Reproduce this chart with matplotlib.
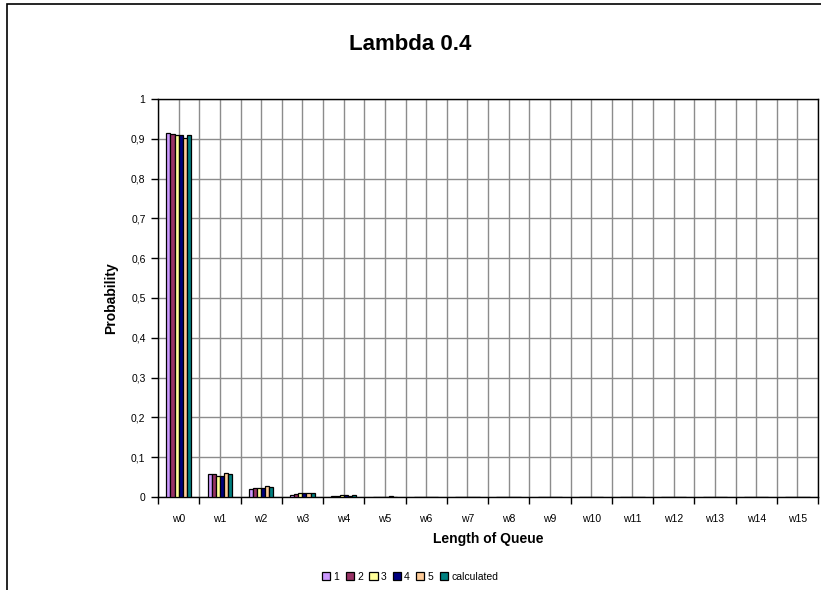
import matplotlib
matplotlib.use("Agg")
import matplotlib.pyplot as plt
from matplotlib.patches import Rectangle
from matplotlib.ticker import FuncFormatter, FixedLocator
import numpy as np

plt.rcParams["font.family"] = ["Liberation Sans", "DejaVu Sans"]

# queue length categories
cats = [f"w{i}" for i in range(16)]
# simulation runs 1..5 and the calculated distribution
run1 = [0.915, 0.057, 0.020, 0.006, 0.003, 0.001, 0.0003, 0.0001, 0, 0, 0, 0, 0, 0, 0, 0]
run2 = [0.912, 0.057, 0.023, 0.007, 0.003, 0.001, 0.0003, 0.0001, 0, 0, 0, 0, 0, 0, 0, 0]
run3 = [0.909, 0.054, 0.023, 0.010, 0.004, 0.001, 0.0003, 0.0001, 0, 0, 0, 0, 0, 0, 0, 0]
run4 = [0.909, 0.054, 0.023, 0.010, 0.004, 0.001, 0.0003, 0.0001, 0, 0, 0, 0, 0, 0, 0, 0]
run5 = [0.903, 0.061, 0.028, 0.010, 0.003, 0.002, 0.0003, 0.0001, 0, 0, 0, 0, 0, 0, 0, 0]
calc = [0.909, 0.057, 0.024, 0.010, 0.004, 0.001, 0.0003, 0.0001, 0, 0, 0, 0, 0, 0, 0, 0]
series = [("1", run1), ("2", run2), ("3", run3), ("4", run4), ("5", run5), ("calculated", calc)]
colors = ["#CC99FF", "#993366", "#FFFF99", "#000080", "#FFCC99", "#008080"]

fig = plt.figure(figsize=(8.21, 5.90), dpi=100)
ax = fig.add_axes([158 / 821, 93 / 590, 660 / 821, 398 / 590])

x = np.arange(len(cats))
w = 0.099
for i, ((name, vals), c) in enumerate(zip(series, colors)):
    ax.bar(x + (i - 2.5) * w, vals, width=w, color=c, edgecolor="black",
           linewidth=0.9, label=name, zorder=3)

ax.set_xlim(-0.5, len(cats) - 0.5)
ax.set_ylim(0, 1)
ax.set_yticks(np.arange(0, 1.01, 0.1))
ax.yaxis.set_major_formatter(FuncFormatter(
    lambda v, p: "0" if v == 0 else ("1" if abs(v - 1) < 1e-9 else f"{v:.1f}".replace(".", ","))))
ax.set_xticks(x)
ax.set_xticklabels(cats)
ax.xaxis.set_minor_locator(FixedLocator(np.arange(-0.5, len(cats), 1.0)))
ax.tick_params(axis="x", which="major", length=0, pad=12, labelsize=7.5)
ax.tick_params(axis="x", which="minor", length=5, width=1, direction="out")
ax.tick_params(axis="y", length=5, width=1, direction="out", labelsize=7.5, pad=4)

ax.grid(True, which="both", axis="x", color="#8c8c8c", linewidth=1, zorder=0)
ax.grid(True, which="major", axis="y", color="#8c8c8c", linewidth=1, zorder=0)
ax.set_axisbelow(True)
for s in ax.spines.values():
    s.set_color("black")
    s.set_linewidth(1)

ax.set_ylabel("Probability", fontsize=10, fontweight="bold", labelpad=9)
ax.set_xlabel("Length of Queue", fontsize=10, fontweight="bold", labelpad=6)
fig.text(410 / 821, 1 - 44 / 590, "Lambda 0.4", ha="center", va="center",
         fontsize=16, fontweight="bold")

fig.legend(loc="center", bbox_to_anchor=(410 / 821, 1 - 577 / 590), ncol=6,
           frameon=False, fontsize=7.5, handlelength=0.8, handleheight=0.8,
           handletextpad=0.3, columnspacing=0.6)

# chart border (cropped on the right and bottom)
fig.patches.append(Rectangle((7 / 821, -0.1), 1.2, 1.1 - 4 / 590, transform=fig.transFigure,
                             fill=False, edgecolor="black", linewidth=1.2))

fig.savefig("out.png", dpi=100)
